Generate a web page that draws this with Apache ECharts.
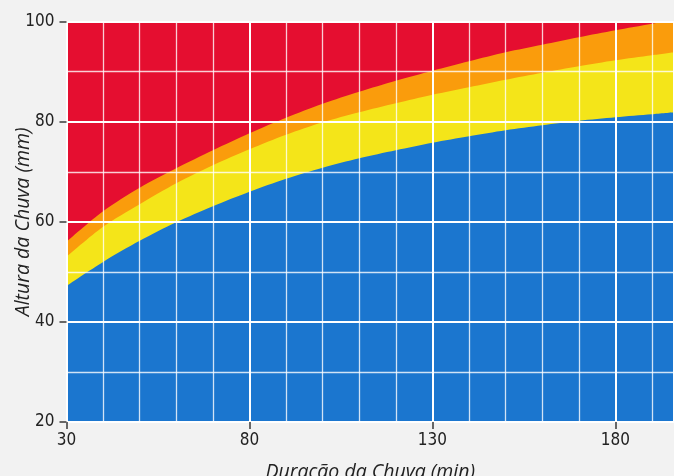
<!DOCTYPE html>
<html><head><meta charset="utf-8">
<script src="https://cdn.jsdelivr.net/npm/echarts@6/dist/echarts.min.js"></script>
<style>html,body{margin:0;padding:0;background:#f2f2f2;}#c{width:674px;height:476px;}</style>
</head><body><div id="c"></div>
<script>
const duracao = [30, 40, 50, 60, 70, 80, 90, 100, 110, 120, 130, 140, 150, 160, 170, 180, 190, 196];
const serieAzul = [47.2, 52.0, 56.2, 59.9, 63.1, 66.0, 68.6, 70.8, 72.7, 74.3, 75.8, 77.1, 78.3, 79.3, 80.2, 80.9, 81.5, 81.9];
const serieAmarela = [53.0, 59.0, 63.5, 67.7, 71.3, 74.5, 77.4, 79.9, 81.9, 83.7, 85.4, 86.9, 88.4, 89.8, 91.1, 92.3, 93.3, 93.9];
const serieLaranja = [56.0, 62.1, 66.8, 70.7, 74.3, 77.7, 80.8, 83.6, 86.0, 88.2, 90.2, 92.1, 93.9, 95.4, 96.9, 98.3, 99.6, 100.5];
const serieVermelha = [100, 100, 100, 100, 100, 100, 100, 100, 100, 100, 100, 100, 100, 100, 100, 100, 100, 100];
const xTicks = [30, 80, 130, 180];
const yTicks = [20, 40, 60, 80, 100];

const pairs = arr => duracao.map((x, i) => [x, arr[i]]);
function area(name, arr, color) {
  return {
    name, type: 'line', data: pairs(arr), smooth: 0.3, symbol: 'none',
    lineStyle: { width: 0 }, areaStyle: { color, opacity: 1, origin: 'start' },
    itemStyle: { color }, silent: true, animation: false
  };
}
const chart = echarts.init(document.getElementById('c'));
const tickFont = "'Liberation Sans Narrow', 'DejaVu Sans Condensed', 'Open Sans', sans-serif";
const titleFont = "'Open Sans', sans-serif";
const labelFont = { color: '#222', fontSize: 17, fontFamily: tickFont };
chart.setOption({
  backgroundColor: '#f2f2f2',
  animation: false,
  grid: { left: 66.5, right: 0, top: 21.7, bottom: 54, outerBoundsMode: 'none', containLabel: false },
  xAxis: {
    type: 'value', min: xTicks[0], max: 196, interval: 50, z: 10,
    name: 'Duracão da Chuva (min)', nameLocation: 'middle', nameGap: 40, nameMoveOverlap: false,
    nameTextStyle: { fontSize: 19.5, fontStyle: 'italic', color: '#222', fontFamily: titleFont },
    axisLine: { show: false },
    axisTick: { show: true, length: 7, lineStyle: { color: '#666', width: 2 } },
    axisLabel: Object.assign({ margin: 10, showMaxLabel: false }, labelFont),
    splitLine: { show: true, lineStyle: { color: '#ffffff', width: 2 } },
    minorTick: { show: false, splitNumber: 5 },
    minorSplitLine: { show: true, lineStyle: { color: 'rgba(255,255,255,0.8)', width: 1.3 } }
  },
  yAxis: {
    type: 'value', min: yTicks[0], max: yTicks[yTicks.length - 1], interval: 20, z: 10,
    name: 'Altura da Chuva (mm)', nameLocation: 'middle', nameGap: 33, nameMoveOverlap: false,
    nameTextStyle: { fontSize: 19.5, fontStyle: 'italic', color: '#222', fontFamily: titleFont },
    axisLine: { show: false },
    axisTick: { show: true, length: 7, lineStyle: { color: '#666', width: 2 } },
    axisLabel: Object.assign({ margin: 12 }, labelFont),
    splitLine: { show: true, lineStyle: { color: '#ffffff', width: 2 } },
    minorTick: { show: false, splitNumber: 2 },
    minorSplitLine: { show: true, lineStyle: { color: 'rgba(255,255,255,0.8)', width: 1.3 } }
  },
  series: [
    area('Vermelha', serieVermelha, '#e50e30'),
    area('Laranja', serieLaranja, '#fa9c0c'),
    area('Amarela', serieAmarela, '#f4e519'),
    area('Azul', serieAzul, '#1b76cf')
  ]
});
</script></body></html>
